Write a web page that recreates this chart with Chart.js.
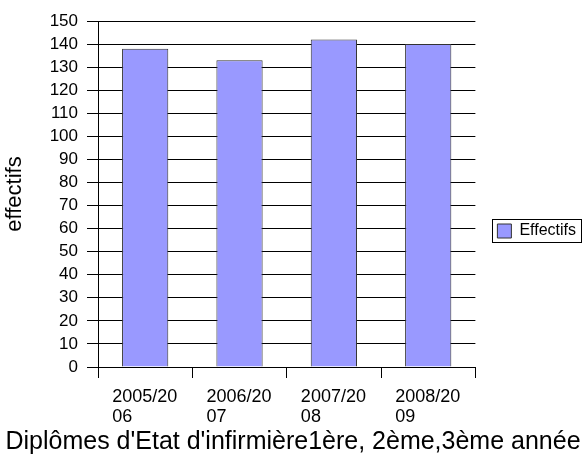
<!DOCTYPE html>
<html>
<head>
<meta charset="utf-8">
<script src="https://cdn.jsdelivr.net/npm/chart.js@4"></script>
<style>
html,body{margin:0;padding:0;background:#fff;}
#wrap{width:587px;height:464px;}
</style>
</head>
<body>
<div id="wrap"><canvas id="c" width="587" height="464"></canvas></div>
<script>
const categories = [['2005/20','06'],['2006/20','07'],['2007/20','08'],['2008/20','09']];
const seriesName = 'Effectifs';
const effectifs = [138, 133, 142, 140];
const yTicks = {min: 0, max: 150, step: 10};
const xTitle = "Diplômes d'Etat d'infirmière1ère, 2ème,3ème année";
const yTitle = 'effectifs';

const FONT = "'Liberation Sans', Arial, sans-serif";

const legendBorder = {
  id: 'legendBorder',
  afterDraw(chart) {
    const lg = chart.legend;
    if (!lg || !lg.legendHitBoxes || !lg.legendHitBoxes.length) return;
    const hb = lg.legendHitBoxes[0];
    const ctx = chart.ctx;
    ctx.save();
    ctx.strokeStyle = '#000';
    ctx.lineWidth = 1;
    ctx.strokeRect(Math.round(hb.left) - 4.5, Math.round(hb.top) - 3.5, Math.round(hb.width) + 10, Math.round(hb.height) + 7);
    ctx.restore();
  }
};

new Chart(document.getElementById('c'), {
  type: 'bar',
  data: {
    labels: categories,
    datasets: [{
      label: seriesName,
      data: effectifs,
      backgroundColor: '#9999ff',
      borderColor: '#333333',
      borderWidth: 1,
      barPercentage: 1,
      categoryPercentage: 0.49
    }]
  },
  options: {
    responsive: false,
    animation: false,
    devicePixelRatio: 1,
    layout: {padding: {left: 0, right: 1, top: 21, bottom: 23}},
    plugins: {
      tooltip: {enabled: false},
      title: {
        display: true,
        position: 'bottom',
        text: xTitle,
        color: '#000',
        font: {family: FONT, size: 25, weight: 'normal', lineHeight: 1.2},
        padding: {top: 0, bottom: -16}
      },
      legend: {
        position: 'right',
        align: 'center',
        labels: {
          color: '#000',
          font: {family: FONT, size: 16},
          boxWidth: 14,
          boxHeight: 14,
          padding: 22
        }
      }
    },
    scales: {
      x: {
        offset: true,
        afterFit(s) { s.height = 60; },
        grid: {offset: true, drawOnChartArea: false, drawTicks: true, tickLength: 11, color: '#000', lineWidth: 1},
        border: {display: true, color: '#000', width: 1},
        ticks: {
          color: '#000',
          font: {family: FONT, size: 18, lineHeight: 1.12},
          align: 'start',
          labelOffset: -33,
          padding: 9,
          maxRotation: 0,
          autoSkip: false
        }
      },
      y: {
        min: yTicks.min,
        max: yTicks.max,
        afterFit(s) { s.width = 98; },
        grid: {color: '#000', lineWidth: 1, drawTicks: true, tickLength: 11},
        border: {display: true, color: '#000', width: 1},
        ticks: {
          stepSize: yTicks.step,
          autoSkip: false,
          color: '#000',
          font: {family: FONT, size: 17},
          padding: 9
        },
        title: {
          display: true,
          text: yTitle,
          color: '#000',
          font: {family: FONT, size: 22},
          padding: {top: 2, bottom: 0}
        }
      }
    }
  },
  plugins: [legendBorder]
});
</script>
</body>
</html>
